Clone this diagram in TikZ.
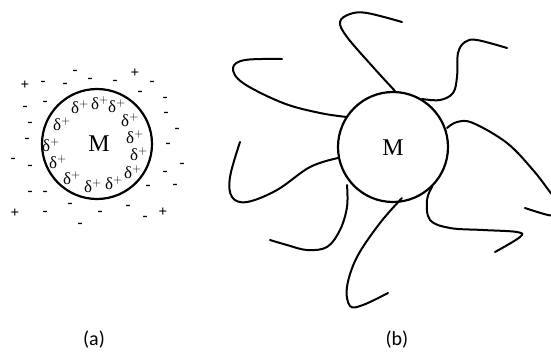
\documentclass[tikz,border=0pt]{standalone}
\usepackage{fontspec}
\setmainfont{Liberation Serif}
\newfontfamily\capfont{Carlito}
\begin{document}
\begin{tikzpicture}[x=1pt,y=-1pt,
  ring/.style={circle,draw,line width=2.2pt,minimum size=110pt,inner sep=0pt},
  arm/.style={line width=2pt,line cap=round},
  mlabel/.style={font=\fontsize{24}{24}\selectfont,inner sep=0pt},
  dp/.style={font=\fontsize{17}{17}\selectfont,inner sep=0pt},
  sg/.style={font=\fontsize{15}{15}\selectfont\bfseries,inner sep=0pt},
  caplabel/.style={font=\capfont\fontsize{20}{20}\selectfont}]
\useasboundingbox (0,0) rectangle (551,354);
\clip (0,0) rectangle (551,354);
% ---------- (a)
\node[ring] (Ma) at (97,144) {};
\node[mlabel] (ma) at (99,144) {M};
\foreach \x/\y [count=\i] in {80/107,100/103,117/106,62/124,130/120,135/137,51/145,139/154,58/162,133/172,72/178,93/186,114/183}
  \node[dp] (d\i) at (\x,\y) {δ$^{+}$};
\foreach \x/\y [count=\i] in {75/72,43/83,65/85,90/80,115/82,152/83,45/103,25/108,140/93,165/99,166/114,30/124,177/130,27/140,168/145,13/160,30/167,182/165,165/173,30/193,45/193,148/187,175/186,70/205,45/213,100/213,128/207,145/218,80/225}
  \node[sg] (m\i) at (\x,\y) {-};
\node[sg] (p1) at (135,73) {+};
\node[sg] (p2) at (25,85) {+};
\node[sg] (p3) at (15,213) {+};
\node[sg] (p4) at (163,212) {+};
\node[caplabel] (la) at (94,340) {(a)};
% ---------- (b)
\node[ring] (Mb) at (393,147) {};
\node[mlabel] (mb) at (393,148) {M};
\draw[arm] plot[smooth,tension=0.6] coordinates {(395,91) (373,67) (347,37) (340,22) (350,14) (367,13) (402,22)};
\draw[arm] plot[smooth,tension=0.6] coordinates {(422,99) (440,100) (453,93) (457,77) (458,53) (465,42) (477,40) (507,48)};
\draw[arm] plot[smooth,tension=0.6] coordinates {(347,117) (320,113) (283,103) (243,83) (233,68) (245,60) (282,59)};
\draw[arm] plot[smooth,tension=0.6] coordinates {(338,158) (310,167) (277,190) (247,202) (232,197) (230,177) (240,142)};
\draw[arm] plot[smooth,tension=0.6] coordinates {(347,185) (347,207) (340,230) (327,247) (307,250) (287,245) (270,240)};
\draw[arm] plot[smooth,tension=0.6] coordinates {(402,198) (380,223) (357,257) (347,287) (350,306) (363,305) (388,293)};
\draw[arm] plot[smooth,tension=0.6] coordinates {(447,128) (457,122) (473,123) (507,143) (533,170) (550,192) (560,205) (556,214) (548,215) (525,208)};
\draw[arm] plot[smooth,tension=0.6] coordinates {(432,187) (427,200) (430,220) (450,228) (483,230) (517,232) (520,237) (495,252)};
\node[caplabel] (lb) at (397,340) {(b)};
\end{tikzpicture}
\end{document}
